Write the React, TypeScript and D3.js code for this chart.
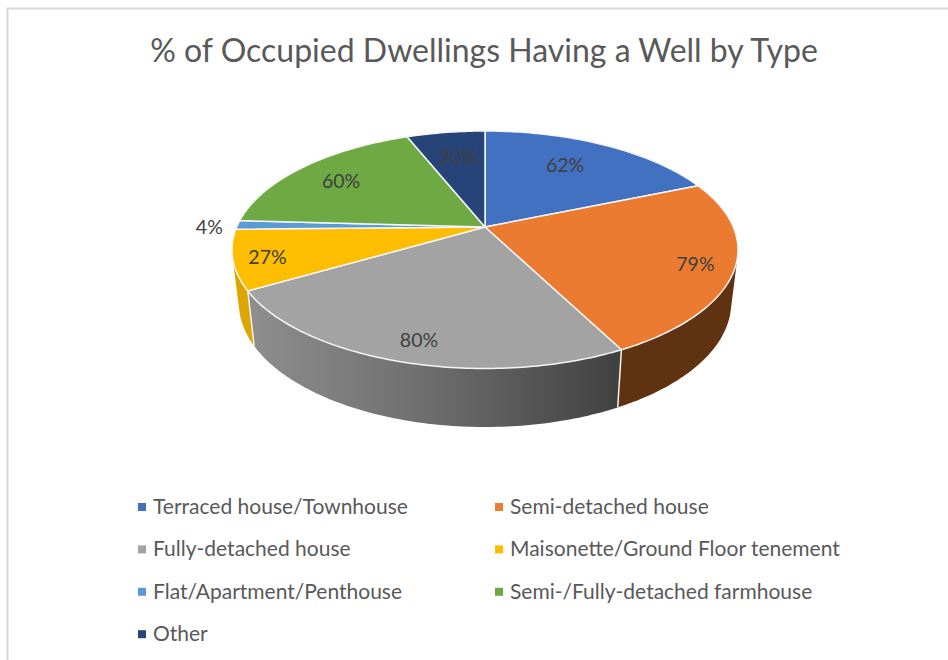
import React from "react";
import * as d3 from "d3";

const title = "% of Occupied Dwellings Having a Well by Type";
const categories = [
  "Terraced house/Townhouse",
  "Semi-detached house",
  "Fully-detached house",
  "Maisonette/Ground Floor tenement",
  "Flat/Apartment/Penthouse",
  "Semi-/Fully-detached farmhouse",
  "Other",
];
const values = [62, 79, 80, 27, 4, 60, 20];
const colors = ["#4271c1", "#ea7b30", "#a3a3a3", "#fdbd00", "#5b9bd5", "#6fa944", "#264478"];
const sideColors = ["#2c4a80", "#5f3312", "url(#graySide)", "#dba600", "#3b6588", "#49702e", "#192c4e"];
const labelNudges: [number, number][] = [[-12, 1], [26.4, 5.3], [-5.5, 17], [-31, 5], [-90, 1.5], [-4.6, 0], [3.7, 3]];

const W = 948, H = 660;
const CX = 485, CY = 227;
const K = 0.1916, A = 248.3, B = 114.4;
const DEPTH_SCALE_X = 0.973, DEPTH_SCALE_Y = 1.046, DEPTH_Y = 52;

const rx = d3.scaleLinear().domain([-1, 1]).range([-A, A]);
const ry = d3.scaleLinear().domain([-1, 1]).range([-B, B]);

// perspective projection of a point on the disc: angle clockwise from 12 o'clock, radius f
const project = (theta: number, f = 1): [number, number] => {
  const s = Math.sin(theta) * f, c = Math.cos(theta) * f;
  const w = 1 + K * c;
  return [CX + rx(s) / w, CY + ry(-c) / w];
};
const projectBottom = (theta: number): [number, number] => {
  const [x, y] = project(theta);
  return [CX + (x - CX) * DEPTH_SCALE_X, CY + DEPTH_Y + (y - CY) * DEPTH_SCALE_Y];
};

const arcs = d3.pie<number>().sort(null).value((d) => d)(values);
const sampleAngles = (a0: number, a1: number) => {
  const n = Math.max(4, Math.ceil((a1 - a0) * 60));
  return d3.range(n + 1).map((i) => a0 + ((a1 - a0) * i) / n);
};
const line = d3.line();

const isVisibleSide = (a: d3.PieArcDatum<number>) => {
  const mid = (a.startAngle + a.endAngle) / 2;
  return Math.cos(mid) < 0.2;
};

export default function App() {
  const labelColor = "#404040";
  const textColor = "#595959";
  return (
    <svg width={W} height={H} style={{ position: "absolute", left: 0, top: 0, background: "#fff" }} fontFamily="Lato, 'Open Sans', sans-serif">
      <defs>
        <linearGradient id="graySide" gradientUnits="userSpaceOnUse" x1={250} x2={622} y1={0} y2={0}>
          <stop offset="0" stopColor="#8e8e8e" />
          <stop offset="0.5" stopColor="#6c6c6c" />
          <stop offset="1" stopColor="#404040" />
        </linearGradient>
      </defs>
      <path d={`M7.5,${H}V8.5H${W}`} fill="none" stroke="#d9d9d9" strokeWidth={2} />
      <text x={484} y={61.5} textAnchor="middle" fontSize={32} fill={textColor}>{title}</text>

      {arcs.map((a, i) => {
        if (!isVisibleSide(a)) return null;
        const ts = sampleAngles(a.startAngle, a.endAngle);
        const hull = d3.polygonHull([...ts.map((t) => project(t)), ...ts.map((t) => projectBottom(t))])!;
        return <path key={i} d={line(hull)! + "Z"} fill={sideColors[i]} />;
      })}
      {arcs.map((a, i) => {
        if (!isVisibleSide(a) || !isVisibleSide(arcs[(i + 1) % arcs.length])) return null;
        return <path key={i} d={line([project(a.endAngle), projectBottom(a.endAngle)])!} stroke="#f2f2f2" strokeWidth={1.5} />;
      })}
      {arcs.map((a, i) => {
        const ts = sampleAngles(a.startAngle, a.endAngle);
        const pts: [number, number][] = [[CX, CY], ...ts.map((t) => project(t))];
        return <path key={i} d={line(pts)! + "Z"} fill={colors[i]} stroke="#f5f5f5" strokeWidth={1.5} strokeLinejoin="round" />;
      })}
      {arcs.map((a, i) => {
        const [x, y] = project((a.startAngle + a.endAngle) / 2, 0.75);
        return (
          <text key={i} x={x + labelNudges[i][0]} y={y + labelNudges[i][1]} textAnchor="middle" dominantBaseline="central" fontSize={19.5} fill={labelColor}>
            {`${a.value}%`}
          </text>
        );
      })}
      {categories.map((c, i) => {
        const col = i % 2, row = Math.floor(i / 2);
        const x = col === 0 ? 138 : 495;
        const y = 507 + row * 42.4;
        return (
          <g key={c}>
            <rect x={x} y={y - 4} width={8} height={8} fill={colors[i]} />
            <text x={x + 15} y={y + 7} fontSize={21} fill={textColor}>{c}</text>
          </g>
        );
      })}
    </svg>
  );
}
